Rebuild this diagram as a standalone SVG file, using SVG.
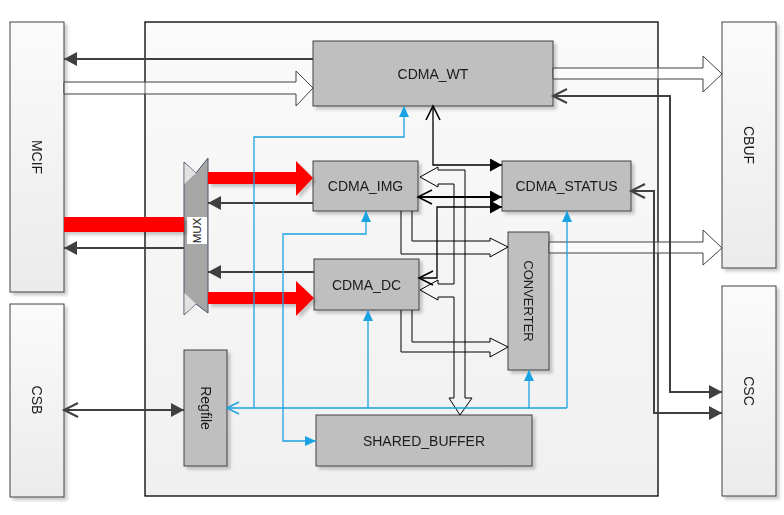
<svg xmlns="http://www.w3.org/2000/svg" width="784" height="515" viewBox="0 0 784 515">
<defs>
  <linearGradient id="gExt" x1="0" y1="0" x2="0" y2="1">
    <stop offset="0" stop-color="#fbfbfb"/><stop offset="1" stop-color="#ebebeb"/>
  </linearGradient>
  <linearGradient id="gMain" x1="0" y1="0" x2="0" y2="1">
    <stop offset="0" stop-color="#fafafa"/><stop offset="1" stop-color="#f0f0f0"/>
  </linearGradient>
  <filter id="sh" x="-10%" y="-10%" width="130%" height="130%">
    <feDropShadow dx="3" dy="3" stdDeviation="1.5" flood-color="#000" flood-opacity="0.2"/>
  </filter>
  <marker id="aDk" markerUnits="userSpaceOnUse" markerWidth="14" markerHeight="14" refX="13" refY="7" orient="auto-start-reverse">
    <path d="M0,0 L13,7 L0,14 Z" fill="#404040"/>
  </marker>
  <marker id="oDk" markerUnits="userSpaceOnUse" markerWidth="18" markerHeight="18" refX="15" refY="8" orient="auto-start-reverse">
    <path d="M1,1 L15,8 L1,15" fill="none" stroke="#404040" stroke-width="2"/>
  </marker>
  <marker id="aBk" markerUnits="userSpaceOnUse" markerWidth="14" markerHeight="14" refX="12" refY="6.5" orient="auto-start-reverse">
    <path d="M0,0 L12,6.5 L0,13 Z" fill="#000"/>
  </marker>
  <marker id="oBk" markerUnits="userSpaceOnUse" markerWidth="18" markerHeight="18" refX="15" refY="8" orient="auto-start-reverse">
    <path d="M1,1 L15,8 L1,15" fill="none" stroke="#000" stroke-width="1.6"/>
  </marker>
  <marker id="aBl" markerUnits="userSpaceOnUse" markerWidth="12" markerHeight="12" refX="11" refY="5" orient="auto-start-reverse">
    <path d="M0,0 L11,5 L0,10 Z" fill="#1aa3e0"/>
  </marker>
  <marker id="oBl" markerUnits="userSpaceOnUse" markerWidth="16" markerHeight="16" refX="13" refY="7" orient="auto-start-reverse">
    <path d="M1,1 L13,7 L1,13" fill="none" stroke="#1aa3e0" stroke-width="1.5"/>
  </marker>
</defs>
<style>
  .ext{fill:url(#gExt);stroke:#404040;stroke-width:1}
  .blk{fill:#bfbfbf;stroke:#404040;stroke-width:1}
  .lbl{font-family:"Liberation Sans",Arial,sans-serif;font-size:14px;fill:#1a1a1a;text-anchor:middle;dominant-baseline:central}
  .dk{fill:none;stroke:#404040;stroke-width:2}
  .bk{fill:none;stroke:#000;stroke-width:1.3}
  .bl{fill:none;stroke:#1aa3e0;stroke-width:1.3}
  .hol{fill:#ffffff;fill-opacity:0.5;stroke:#404040;stroke-width:1}
  .thin{fill:none;stroke:#000;stroke-width:1}
  .red{fill:#ff0000}
</style>

<g id="main">
  <rect x="145" y="22" width="513" height="474" fill="url(#gMain)" stroke="#000" stroke-width="1.3"/>
</g>
<g id="MCIF" filter="url(#sh)">
  <rect class="ext" x="10" y="22" width="54" height="270"/>
  <text class="lbl" transform="translate(37,157) rotate(90)">MCIF</text>
</g>
<g id="CSB" filter="url(#sh)">
  <rect class="ext" x="10" y="304" width="54" height="193"/>
  <text class="lbl" transform="translate(37,400) rotate(90)">CSB</text>
</g>
<g id="CBUF" filter="url(#sh)">
  <rect class="ext" x="722" y="22" width="54" height="246"/>
  <text class="lbl" transform="translate(749,145) rotate(90)">CBUF</text>
</g>
<g id="CSC" filter="url(#sh)">
  <rect class="ext" x="722" y="286" width="54" height="210"/>
  <text class="lbl" transform="translate(749,391) rotate(90)">CSC</text>
</g>
<g id="CDMA_WT" filter="url(#sh)">
  <rect class="blk" x="313" y="41" width="240" height="65"/>
  <text class="lbl" x="433" y="74">CDMA_WT</text>
</g>
<g id="CDMA_IMG" filter="url(#sh)">
  <rect class="blk" x="313" y="161" width="105" height="50"/>
  <text class="lbl" x="365.5" y="186">CDMA_IMG</text>
</g>
<g id="CDMA_STATUS" filter="url(#sh)">
  <rect class="blk" x="502" y="161" width="129" height="50"/>
  <text class="lbl" x="566.5" y="186">CDMA_STATUS</text>
</g>
<g id="CDMA_DC" filter="url(#sh)">
  <rect class="blk" x="314" y="259" width="105" height="51"/>
  <text class="lbl" x="366.5" y="284.5">CDMA_DC</text>
</g>
<g id="CONVERTER" filter="url(#sh)">
  <rect class="blk" x="508" y="232" width="41" height="138"/>
  <text class="lbl" style="font-size:13px" transform="translate(528.5,301) rotate(90)">CONVERTER</text>
</g>
<g id="SHARED_BUFFER" filter="url(#sh)">
  <rect class="blk" x="316" y="415" width="216" height="51"/>
  <text class="lbl" x="424" y="441">SHARED_BUFFER</text>
</g>
<g id="Regfile" filter="url(#sh)">
  <rect class="blk" x="184" y="350" width="43" height="116"/>
  <text class="lbl" transform="translate(205.5,408) rotate(90)">Regfile</text>
</g>
<g id="MUX">
  <polygon points="184,162 196,173 208,158 208,313 196,304 184,315" fill="#a6a6a6" stroke="#4a5568" stroke-width="1"/>
  <polygon points="184.5,163 196,173 184.5,184" fill="#e2e2e2"/>
  <polygon points="184.5,314 196,304 184.5,293" fill="#e2e2e2"/>
  <rect x="187" y="217" width="20" height="27" fill="#fff"/>
  <text class="lbl" style="font-size:11.5px" transform="translate(197,230.5) rotate(-90)">MUX</text>
</g>

<g id="connectors">
  <!-- wide hollow buses -->
  <path class="hol" d="M64,82 H296 V71 L313,88 L296,106 V94 H64 Z"/>
  <path class="hol" d="M553,68 H703 V56 L722,74 L703,92 V79 H553 Z"/>
  <path class="hol" d="M549,242 H703 V230 L722,248 L703,265 V253 H549 Z"/>
  <!-- red buses -->
  <g filter="url(#sh)">
    <rect class="red" x="64" y="217" width="120" height="15"/>
    <path class="red" d="M208,172 H296 V161 L313,178 L296,196 V184 H208 Z"/>
    <path class="red" d="M208,292 H296 V281 L314,298 L296,316 V304 H208 Z"/>
  </g>
  <!-- dark gray -->
  <path class="dk" d="M313,59 H64" marker-end="url(#aDk)"/>
  <path class="dk" d="M313,203 H208" marker-end="url(#aDk)"/>
  <path class="dk" d="M184,248 H64" marker-end="url(#aDk)"/>
  <path class="dk" d="M314,272 H208" marker-end="url(#aDk)"/>
  <path class="dk" d="M64,410 H184" marker-start="url(#oDk)" marker-end="url(#aDk)"/>
  <path class="dk" d="M553,96 H670 V392 H722" marker-start="url(#oDk)" marker-end="url(#aDk)"/>
  <path class="dk" d="M631,191 H654 V413 H722" marker-start="url(#oDk)" marker-end="url(#aDk)"/>
  <!-- black control -->
  <path class="bk" d="M433,106 V165 H502" marker-start="url(#oBk)" marker-end="url(#aBk)"/>
  <path class="bk" style="stroke-width:1.8" d="M418,197 H502" marker-start="url(#oBk)" marker-end="url(#aBk)"/>
  <path class="bk" d="M419,278 H437 V207 H502" marker-start="url(#oBk)" marker-end="url(#aBk)"/>
  <!-- thin hollow data paths -->
  <path class="thin" d="M401,211 V254 H490 V257 L508,247 L490,238 V241 H412 V211"/>
  <path class="thin" d="M401,310 V352 H490 V357 L508,347 L490,338 V342 H412 V310"/>
  <path class="thin" d="M420,177 L438,167 V170 H465 V398 H472 L460,415 L449,398 H454 V297 H438 V300 L420,290 L438,280 V284 H454 V184 H438 V187 Z"/>
  <!-- blue config bus -->
  <path class="bl" d="M227,408 H567" marker-start="url(#oBl)"/>
  <path class="bl" d="M254,408 V137 H404 V106" marker-end="url(#aBl)"/>
  <path class="bl" d="M366,211 V234 H283 V441 H316" marker-start="url(#aBl)" marker-end="url(#aBl)"/>
  <path class="bl" d="M368,408 V310" marker-end="url(#aBl)"/>
  <path class="bl" d="M529,408 V370" marker-end="url(#aBl)"/>
  <path class="bl" d="M567,408 V211" marker-end="url(#aBl)"/>
</g>
</svg>
